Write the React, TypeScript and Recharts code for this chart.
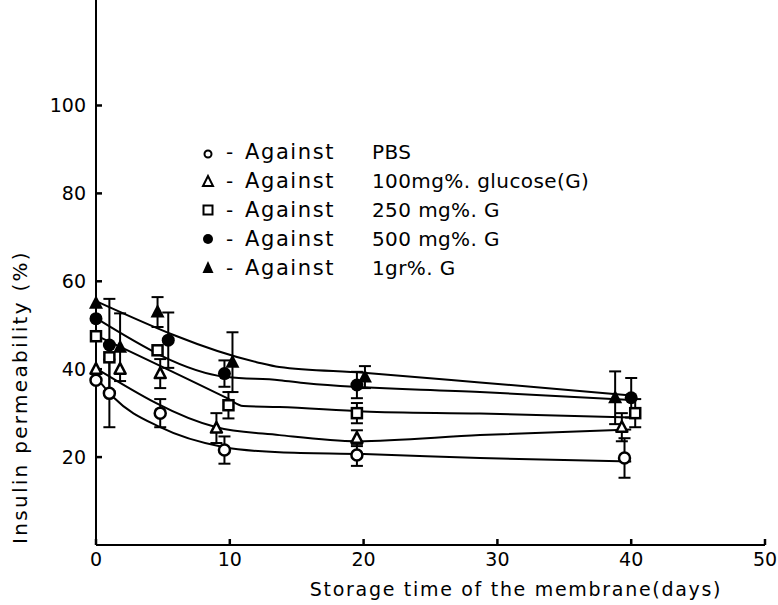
import React from 'react';
import { ComposedChart, Line, Scatter, ErrorBar, XAxis, YAxis } from 'recharts';

const FONT = '"DejaVu Sans", sans-serif';

// hand-drawn fit curves (days, %)
const pbsFitDays = [0, 1.3, 4.8, 9.5, 13.7, 20, 28.7, 40];
const pbsFitValues = [38.2, 33.6, 26.8, 22.3, 21.1, 20.7, 19.8, 19];
const g100FitDays = [0, 9, 13.7, 19.5, 28.7, 40];
const g100FitValues = [40.2, 26.8, 25, 23.6, 25, 26.3];
const g250FitDays = [0, 9.8, 11, 13.7, 20, 28.7, 40];
const g250FitValues = [47.7, 33.4, 31.6, 31.4, 30.4, 29.9, 29];
const g500FitDays = [0, 9.8, 13.7, 15.7, 28.7, 40];
const g500FitValues = [51.6, 38.2, 37.5, 36.8, 34.8, 33];
const g1grFitDays = [0, 12, 13.7, 20, 28.7, 40];
const g1grFitValues = [55.5, 41.6, 40.5, 39.2, 37, 34];

// measured points with error bars
const pbsDays = [0, 1, 4.8, 9.6, 19.5, 39.5];
const pbsValues = [37.5, 34.5, 30, 21.6, 20.5, 19.8];
const pbsErrors = [0, 7.7, 3.2, 3.1, 2.5, 4.5];

const g100Days = [0, 1.8, 4.8, 9, 19.5, 39.3];
const g100Values = [40, 40, 39, 26.6, 24.3, 26.8];
const g100Errors = [0, 0, 3.3, 3.4, 1.8, 3.2];

const g250Days = [0, 1, 4.6, 9.9, 19.5, 40.3];
const g250Values = [47.5, 42.7, 44.3, 31.8, 30, 30];
const g250Errors = [0, 0, 0, 3, 2.3, 3.2];

const g500Days = [0, 1, 5.4, 9.6, 19.5, 40];
const g500Values = [51.5, 45.5, 46.6, 39, 36.4, 33.5];
const g500Errors = [0, 10.5, 6.3, 3, 3, 4.5];

const g1grDays = [0, 1.8, 4.6, 10.2, 20.1, 38.8];
const g1grValues = [55, 45, 53, 41.6, 38.2, 33.5];
const g1grErrors = [0, 7.7, 3.4, 6.8, 2.5, 6];

const xTicks = [0, 10, 20, 30, 40, 50];
const yTicks = [20, 40, 60, 80, 100];

const legendItems = [
  { mark: 'openCircle', label: 'PBS' },
  { mark: 'openTriangle', label: '100mg%. glucose(G)' },
  { mark: 'openSquare', label: '250 mg%. G' },
  { mark: 'filledCircle', label: '500 mg%. G' },
  { mark: 'filledTriangle', label: '1gr%. G' },
];

const toCurve = (days: number[], values: number[]) => days.map((d, i) => ({ x: d, y: values[i] }));
const toPoints = (days: number[], values: number[], errors: number[]) =>
  days.map((d, i) => ({ x: d, y: values[i], err: errors[i] }));

const Marker = ({ kind, cx, cy }: { kind: string; cx: number; cy: number }) => {
  switch (kind) {
    case 'openCircle':
      return <circle cx={cx} cy={cy} r={5.5} fill="#fff" stroke="#000" strokeWidth={2.5} />;
    case 'filledCircle':
      return <circle cx={cx} cy={cy} r={6.5} fill="#000" />;
    case 'openSquare':
      return <rect x={cx - 5} y={cy - 5} width={10} height={10} fill="#fff" stroke="#000" strokeWidth={2.5} />;
    case 'openTriangle':
      return (
        <polygon
          points={`${cx},${cy - 6} ${cx - 5.5},${cy + 4.5} ${cx + 5.5},${cy + 4.5}`}
          fill="#fff"
          stroke="#000"
          strokeWidth={2.5}
          strokeLinejoin="round"
        />
      );
    case 'filledTriangle':
      return <polygon points={`${cx},${cy - 8} ${cx - 7},${cy + 5.5} ${cx + 7},${cy + 5.5}`} fill="#000" />;
    default:
      return null;
  }
};

// inward tick marks, placed by the chart's own scales
const XTickMark = (p: any) => <path d={`M${p.cx},${p.cy}V${p.cy - 6}`} stroke="#000" strokeWidth={2.5} fill="none" />;
const YTickMark = (p: any) => <path d={`M${p.cx},${p.cy}H${p.cx + 6}`} stroke="#000" strokeWidth={2.5} fill="none" />;

const XTick = (props: any) => (
  <text x={props.x} y={props.y} dy="0.71em" textAnchor="middle" fontFamily={FONT} fontSize={19} fill="#000">
    {props.payload.value}
  </text>
);

const YTick = (props: any) => (
  <text x={props.x} y={props.y} dy="0.35em" textAnchor="end" fontFamily={FONT} fontSize={19} fill="#000">
    {props.payload.value}
  </text>
);

const LegendIcon = ({ kind }: { kind: string }) => {
  const small: Record<string, React.ReactNode> = {
    openCircle: <circle cx={9} cy={12} r={3.5} fill="#fff" stroke="#000" strokeWidth={2} />,
    openTriangle: <polygon points="9,5 4,15 14,15" fill="#fff" stroke="#000" strokeWidth={2} />,
    openSquare: <rect x={4.5} y={5.5} width={9} height={9} fill="#fff" stroke="#000" strokeWidth={2} />,
    filledCircle: <circle cx={9} cy={10} r={5} fill="#000" />,
    filledTriangle: <polygon points="9,3 3.5,15 14.5,15" fill="#000" />,
  };
  return (
    <svg width={18} height={20} style={{ position: 'absolute', left: 0, top: 4 }}>
      {small[kind]}
    </svg>
  );
};

const series = [
  { key: 'pbs', kind: 'openCircle', fitDays: pbsFitDays, fitValues: pbsFitValues, days: pbsDays, values: pbsValues, errors: pbsErrors },
  { key: 'g100', kind: 'openTriangle', fitDays: g100FitDays, fitValues: g100FitValues, days: g100Days, values: g100Values, errors: g100Errors },
  { key: 'g250', kind: 'openSquare', fitDays: g250FitDays, fitValues: g250FitValues, days: g250Days, values: g250Values, errors: g250Errors },
  { key: 'g500', kind: 'filledCircle', fitDays: g500FitDays, fitValues: g500FitValues, days: g500Days, values: g500Values, errors: g500Errors },
  { key: 'g1gr', kind: 'filledTriangle', fitDays: g1grFitDays, fitValues: g1grFitValues, days: g1grDays, values: g1grValues, errors: g1grErrors },
];

const App: React.FC = () => {
  return (
    <div style={{ position: 'absolute', left: 0, top: 0, width: 778, height: 605, background: '#fff', fontFamily: FONT }}>
      <ComposedChart width={778} height={605} margin={{ top: 0, right: 13, bottom: 30, left: 36 }}>
        <XAxis
          dataKey="x"
          type="number"
          domain={[0, 50]}
          ticks={xTicks}
          allowDuplicatedCategory={false}
          axisLine={{ stroke: '#000', strokeWidth: 2 }}
          tickLine={false}
          tickSize={0}
          tickMargin={8}
          tick={<XTick />}
          interval={0}
        />
        <YAxis
          dataKey="y"
          type="number"
          domain={[0, 124]}
          ticks={yTicks}
          width={60}
          axisLine={{ stroke: '#000', strokeWidth: 2 }}
          tickLine={false}
          tickSize={0}
          tickMargin={10}
          tick={<YTick />}
          interval={0}
        />
        <Scatter
          data={xTicks.map((t) => ({ x: t, y: 0 }))}
          dataKey="y"
          isAnimationActive={false}
          shape={XTickMark}
          legendType="none"
        />
        <Scatter
          data={yTicks.map((t) => ({ x: 0, y: t }))}
          dataKey="y"
          isAnimationActive={false}
          shape={YTickMark}
          legendType="none"
        />
        {series.map((s) => (
          <Line
            key={`fit-${s.key}`}
            data={toCurve(s.fitDays, s.fitValues)}
            dataKey="y"
            type="monotone"
            stroke="#000"
            strokeWidth={2}
            dot={false}
            activeDot={false}
            isAnimationActive={false}
          />
        ))}
        {series.map((s) => (
          <Scatter
            key={`pts-${s.key}`}
            data={toPoints(s.days, s.values, s.errors)}
            dataKey="y"
            isAnimationActive={false}
            shape={(p: any) => <Marker kind={s.kind} cx={p.cx} cy={p.cy} />}
          >
            <ErrorBar dataKey="err" direction="y" width={6} stroke="#000" strokeWidth={2} isAnimationActive={false} />
          </Scatter>
        ))}
      </ComposedChart>

      {/* legend */}
      <div style={{ position: 'absolute', left: 199, top: 138, fontSize: 20, color: '#000', lineHeight: '29px' }}>
        {legendItems.map((item) => (
          <div key={item.label} style={{ position: 'relative', height: 29, whiteSpace: 'nowrap' }}>
            <LegendIcon kind={item.mark} />
            <span style={{ position: 'absolute', left: 27 }}>-</span>
            <span style={{ position: 'absolute', left: 46, fontSize: 21, letterSpacing: 1.6 }}>Against</span>
            <span style={{ position: 'absolute', left: 173, letterSpacing: 0.4 }}>{item.label}</span>
          </div>
        ))}
      </div>

      {/* axis titles */}
      <div style={{ position: 'absolute', left: 0, width: 778, top: 578, textAlign: 'center', paddingLeft: 254, boxSizing: 'border-box', fontSize: 19, letterSpacing: 1.7, whiteSpace: 'nowrap' }}>
        Storage time of the membrane(days)
      </div>
      <div
        style={{
          position: 'absolute',
          left: 20,
          top: 397,
          fontSize: 20,
          letterSpacing: 2.3,
          whiteSpace: 'nowrap',
          transform: 'translate(-50%, -50%) rotate(-90deg)',
        }}
      >
        Insulin permeability (%)
      </div>
    </div>
  );
};

export default App;
